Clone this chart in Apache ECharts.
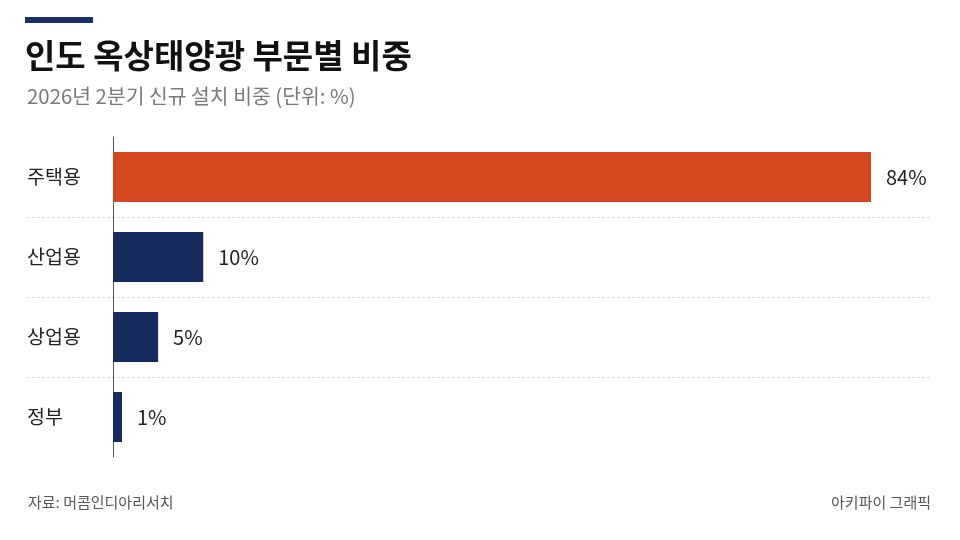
<!DOCTYPE html>
<html><head><meta charset="utf-8">
<script src="https://cdn.jsdelivr.net/npm/echarts@6/dist/echarts.min.js"></script>
<style>html,body{margin:0;padding:0;background:#fff}#c{width:960px;height:540px}</style>
</head><body><div id="c"></div>
<script>
const categories = ['주택용', '산업용', '상업용', '정부'];
const shares = [84, 10, 5, 1];
const barColors = ['#D4481F', '#162B5E', '#162B5E', '#162B5E'];
const titleText = '인도 옥상태양광 부문별 비중';
const subtitleText = '2026년 2분기 신규 설치 비중 (단위: %)';
const sourceText = '자료: 머콤인디아리서치';
const creditText = '아키파이 그래픽';

const FONT = "'Noto Sans CJK KR', 'Noto Sans', sans-serif";
const chart = echarts.init(document.getElementById('c'));
chart.setOption({
  backgroundColor: '#ffffff',
  animation: false,
  textStyle: { fontFamily: FONT },
  graphic: [{ type: 'rect', left: 25, top: 17, shape: { width: 68, height: 6 }, style: { fill: '#1B3266' } }],
  title: [
    { text: titleText, left: 25, top: 39, padding: 0, textStyle: { fontFamily: FONT, fontSize: 33, fontWeight: 'bold', color: '#111' } },
    { text: subtitleText, left: 27, top: 86, padding: 0, textStyle: { fontFamily: FONT, fontSize: 20.4, fontWeight: 'normal', color: '#7a7a7a' } },
    { text: sourceText, left: 28, top: 495, padding: 0, textStyle: { fontFamily: FONT, fontSize: 15, fontWeight: 'normal', color: '#555' } },
    { text: creditText, right: 29, top: 495, padding: 0, textStyle: { fontFamily: FONT, fontSize: 15, fontWeight: 'normal', color: '#555' } }
  ],
  grid: { left: 27, right: 28, top: 137, bottom: 83, containLabel: false, outerBoundsMode: 'none' },
  xAxis: { type: 'value', show: false, min: -9.53, max: 90.76 },
  yAxis: {
    type: 'category', data: categories, inverse: true,
    axisLine: { show: true, onZero: true, lineStyle: { color: '#555', width: 1 } },
    axisTick: { show: false },
    axisLabel: { margin: 0, align: 'left', fontSize: 19.5, color: '#222', fontFamily: FONT },
    splitLine: { show: true, showMinLine: false, showMaxLine: false, lineStyle: { color: '#dcdcdc', type: [3, 2], width: 1 } }
  },
  series: [{
    type: 'bar', barWidth: 50,
    data: shares.map((v, i) => ({ value: v, itemStyle: { color: barColors[i] } })),
    label: { show: true, position: 'right', distance: 15, formatter: '{c}%', fontSize: 20, color: '#222', fontFamily: FONT }
  }]
});
</script></body></html>
